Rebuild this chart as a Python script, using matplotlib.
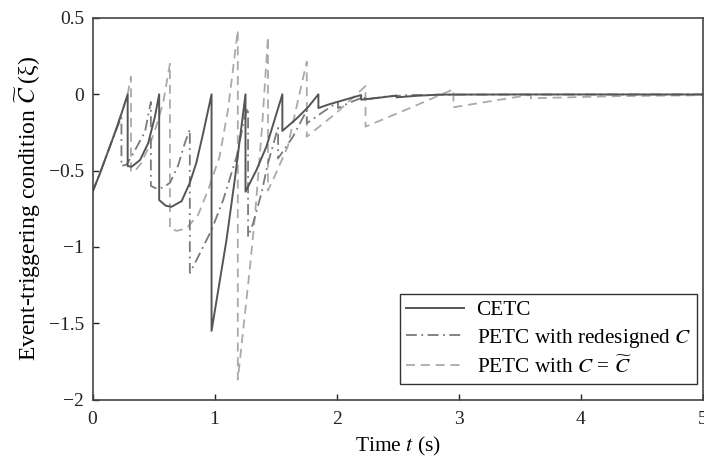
import matplotlib
matplotlib.use("Agg")
import matplotlib.pyplot as plt

plt.rcParams['font.family'] = ['Liberation Serif', 'DejaVu Serif']
plt.rcParams['mathtext.fontset'] = 'stix'
plt.rcParams['font.size'] = 15

# CETC (continuous event-triggered control)
cetc_t = [0, 0.06, 0.12, 0.18, 0.24, 0.288, 0.288, 0.32, 0.39, 0.456, 0.511, 0.546,
          0.546, 0.60, 0.647, 0.73, 0.797, 0.85, 0.906, 0.975, 0.975, 1.097, 1.165,
          1.253, 1.253, 1.343, 1.424, 1.555, 1.555, 1.67, 1.765, 1.85, 1.85, 1.94,
          2.07, 2.2, 2.2, 2.35, 2.49, 2.49, 2.65, 2.84, 3.5, 5.0]
cetc_y = [-0.64, -0.52, -0.39, -0.26, -0.12, 0.0, -0.47, -0.475, -0.43, -0.32, -0.147, 0.0,
          -0.693, -0.73, -0.737, -0.70, -0.58, -0.45, -0.256, 0.0, -1.55, -0.956, -0.56,
          0.0, -0.638, -0.496, -0.343, 0.0, -0.24, -0.16, -0.085, 0.0, -0.09, -0.065,
          -0.035, -0.005, -0.035, -0.022, -0.008, -0.02, -0.01, -0.002, -0.001, -0.001]

# PETC with redesigned C
petc_r_t = [0, 0.06, 0.12, 0.18, 0.237, 0.237, 0.28, 0.334, 0.43, 0.478, 0.478, 0.53,
            0.58, 0.634, 0.70, 0.756, 0.797, 0.797, 0.852, 0.975, 1.07, 1.18, 1.247,
            1.274, 1.274, 1.315, 1.383, 1.437, 1.506, 1.52, 1.52, 1.64, 1.755, 1.755,
            1.88, 2.01, 2.01, 2.12, 2.23, 2.23, 2.4, 2.6, 3.0, 5.0]
petc_r_y = [-0.64, -0.52, -0.39, -0.26, -0.15, -0.47, -0.46, -0.387, -0.245, -0.05, -0.60,
            -0.62, -0.61, -0.58, -0.47, -0.32, -0.23, -1.17, -1.086, -0.889, -0.693,
            -0.409, -0.147, -0.09, -0.933, -0.846, -0.65, -0.452, -0.256, -0.22, -0.42,
            -0.28, -0.105, -0.19, -0.12, -0.05, -0.09, -0.05, -0.015, -0.035, -0.015,
            -0.005, -0.002, -0.001]

# PETC with C = C~
petc_c_t = [0, 0.06, 0.12, 0.18, 0.24, 0.288, 0.315, 0.315, 0.34, 0.40, 0.47, 0.53, 0.58,
            0.634, 0.634, 0.69, 0.77, 0.865, 0.947, 1.04, 1.11, 1.19, 1.19, 1.29, 1.33,
            1.39, 1.437, 1.437, 1.49, 1.6, 1.68, 1.755, 1.755, 2.0, 2.236, 2.236, 2.6,
            2.956, 2.956, 3.3, 3.59, 3.59, 4.3, 5.0]
petc_c_y = [-0.64, -0.52, -0.39, -0.26, -0.12, 0.0, 0.115, -0.50, -0.51, -0.45, -0.33,
            -0.19, -0.05, 0.2, -0.88, -0.895, -0.878, -0.79, -0.627, -0.41, -0.1, 0.42,
            -1.87, -1.13, -0.80, -0.2, 0.377, -0.63, -0.54, -0.34, -0.05, 0.214, -0.278,
            -0.12, 0.054, -0.212, -0.09, 0.033, -0.085, -0.04, -0.003, -0.026, -0.012,
            -0.006]

labels = ["CETC", r"PETC with redesigned $C$", r"PETC with $C$ = $\widetilde{C}$"]
x_ticks = [0, 1, 2, 3, 4, 5]
y_ticks = [-2, -1.5, -1, -0.5, 0, 0.5]
y_ticklabels = ["\u22122", "\u22121.5", "\u22121", "\u22120.5", "0", "0.5"]

fig = plt.figure(figsize=(7.04, 4.58), dpi=100)
ax = fig.add_axes([0.1314, 0.1277, 0.8672, 0.8330])

ax.plot(petc_c_t, petc_c_y, color='#aaaaaa', lw=1.3, dashes=(5, 3.2), label=labels[2])
ax.plot(petc_r_t, petc_r_y, color='#7a7a7a', lw=1.3, dashes=(6, 2.5, 1, 2.5), label=labels[1])
ax.plot(cetc_t, cetc_y, color='#555555', lw=1.4, label=labels[0])

ax.set_xlim(0, 5)
ax.set_ylim(-2, 0.5)
ax.set_xticks(x_ticks)
ax.set_xticklabels([str(v) for v in x_ticks])
ax.set_yticks(y_ticks)
ax.set_yticklabels(y_ticklabels)
ax.tick_params(direction='in', length=4, width=1, colors='#222222', labelsize=14,
               top=False, right=False)
ax.tick_params(axis='x', pad=8)
ax.tick_params(axis='y', pad=6)
for s in ax.spines.values():
    s.set_color('#444444')
    s.set_linewidth(1.2)

ax.set_xlabel(r"Time $t$ (s)", fontsize=15.5, labelpad=5)
ax.set_ylabel("Event-triggering condition $\\widetilde{C}$\u2009(\u03be)", fontsize=17,
              labelpad=4)

h, l = ax.get_legend_handles_labels()
order = [2, 1, 0]
leg = ax.legend([h[i] for i in order], [l[i] for i in order], loc='lower right',
                bbox_to_anchor=(0.9906, 0.0406), borderaxespad=0, fancybox=False,
                framealpha=1, edgecolor='#333333', fontsize=15.3, handlelength=2.7,
                handletextpad=0.6, labelspacing=0.3, borderpad=0.3)
leg.get_frame().set_linewidth(1.0)

fig.savefig("out.png", dpi=100)
